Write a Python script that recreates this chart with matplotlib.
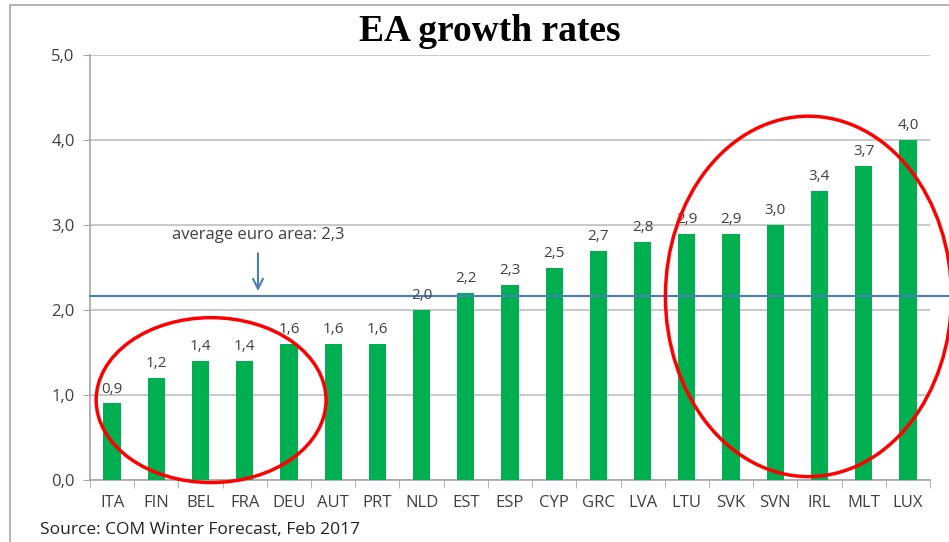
import matplotlib.pyplot as plt
from matplotlib.patches import Ellipse, Rectangle

countries = ['ITA', 'FIN', 'BEL', 'FRA', 'DEU', 'AUT', 'PRT', 'NLD', 'EST', 'ESP',
             'CYP', 'GRC', 'LVA', 'LTU', 'SVK', 'SVN', 'IRL', 'MLT', 'LUX']
growth = [0.9, 1.2, 1.4, 1.4, 1.6, 1.6, 1.6, 2.0, 2.2, 2.3,
          2.5, 2.7, 2.8, 2.9, 2.9, 3.0, 3.4, 3.7, 4.0]
avg_line = 2.16
y_ticks = [0.0, 1.0, 2.0, 3.0, 4.0, 5.0]

plt.rcParams['font.family'] = ['Open Sans', 'DejaVu Sans']
green = '#00B050'
txt = '#404040'

fig = plt.figure(figsize=(9.49, 5.42), dpi=100)
ax = fig.add_axes([0.0948, 0.1144, 0.8852, 0.7841])

# outer frame of the slide
fig.patches.append(Rectangle((10 / 949, -0.1), 1.2, 1.1 - 5 / 542, transform=fig.transFigure,
                             fill=False, edgecolor='#a6a6a6', linewidth=1.2))

x = list(range(len(countries)))
ax.bar(x, growth, width=0.39, color=green, zorder=3)
for xi, v in zip(x, growth):
    ax.text(xi, v + 0.08, f'{v:.1f}'.replace('.', ','), ha='center', va='bottom',
            fontsize=11, color=txt, zorder=5)

ax.set_xlim(-0.5, len(countries) - 0.5)
ax.set_ylim(0, 5)
ax.set_yticks(y_ticks)
ax.set_yticklabels([f'{t:.1f}'.replace('.', ',') for t in y_ticks], fontsize=12, color=txt)
ax.set_xticks(x)
ax.set_xticklabels(countries, fontsize=12, color=txt)
ax.set_xticks([i - 0.5 for i in range(len(countries) + 1)], minor=True)
ax.tick_params(axis='x', which='major', length=0, pad=11)
ax.tick_params(axis='x', which='minor', length=6, color='#a6a6a6')
ax.tick_params(axis='y', length=5, color='#a6a6a6', pad=6)
ax.grid(axis='y', color='#bfbfbf', linewidth=1.2, zorder=0)
for s in ['top', 'right']:
    ax.spines[s].set_visible(False)
for s in ['left', 'bottom']:
    ax.spines[s].set_color('#a6a6a6')
    ax.spines[s].set_linewidth(1.2)

# average line extends beyond the plot to the right edge
ax.axhline(avg_line, xmin=0.0, xmax=1.03, color='#4a7ebb', linewidth=1.5, zorder=4, clip_on=False)
ax.annotate('', xy=(3.3, avg_line + 0.03), xytext=(3.3, 2.7),
            arrowprops=dict(arrowstyle='->', color='#4a7ebb', lw=1.5, mutation_scale=18), zorder=4)
ax.text(3.3, 2.88, 'average euro area: 2,3', ha='center', va='center', fontsize=12, color=txt)

# red highlight ellipses
ax.add_patch(Ellipse((2.24, 0.94), 5.2, 1.94, fill=False, edgecolor='#ff0000', linewidth=2.5,
                     zorder=6, clip_on=False))
ax.add_patch(Ellipse((15.75, 2.16), 6.47, 4.24, fill=False, edgecolor='#ff0000', linewidth=2.5,
                     zorder=6, clip_on=False))

fig.text(0.516, 0.942, 'EA growth rates', ha='center', va='center', fontsize=27,
         fontweight='bold', family=['Liberation Serif', 'DejaVu Serif'])
fig.text(40 / 949, 1 - 530 / 542, 'Source: COM Winter Forecast, Feb 2017', ha='left', va='center',
         fontsize=12.5, color='#222222')

fig.savefig('out.png', dpi=100)
